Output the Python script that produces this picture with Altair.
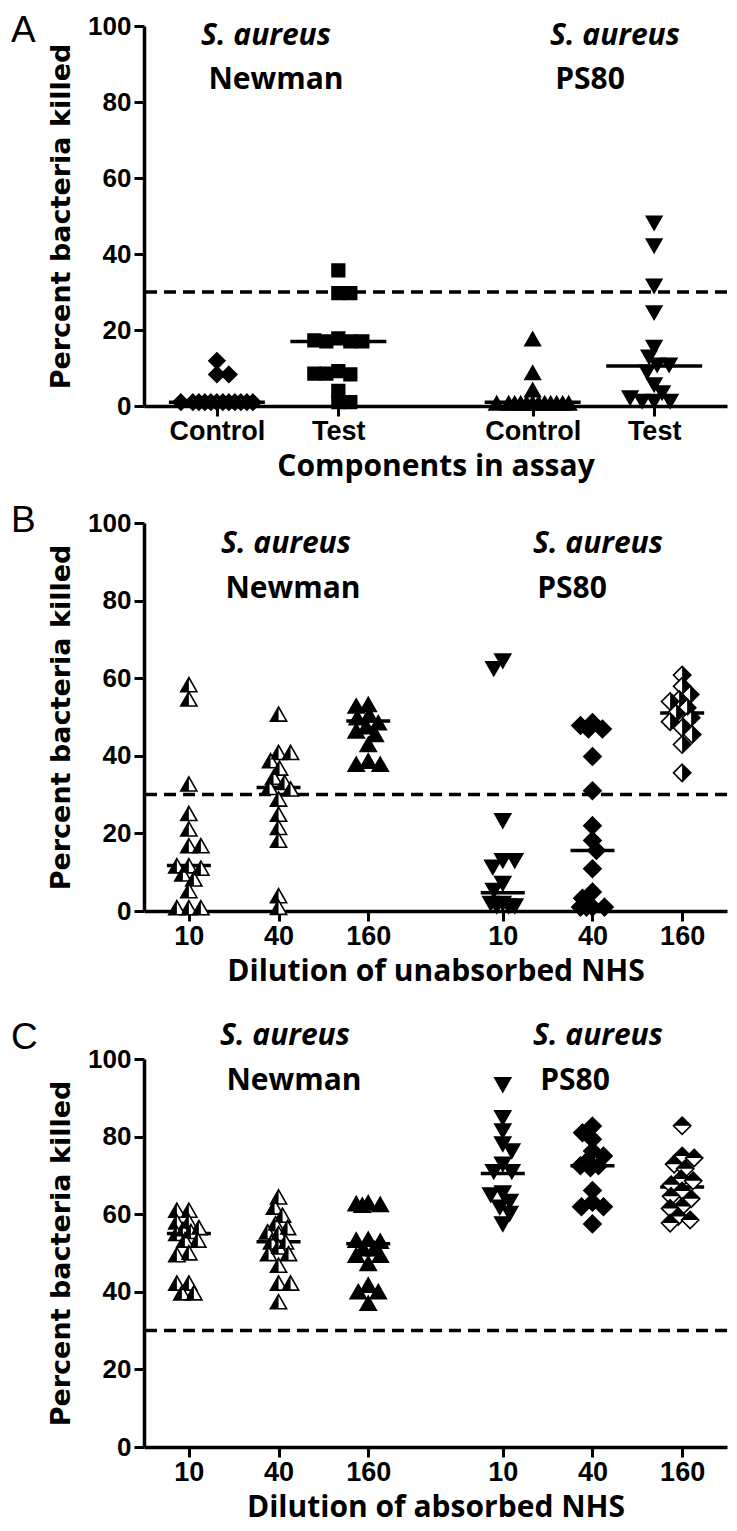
import math
import altair as alt
import pandas as pd

CUTOFF = 30
Y_TITLE = "Percent bacteria killed"
STRAIN_TOP = "S. aureus"
STRAIN_LEFT = "Newman"
STRAIN_RIGHT = "PS80"

# ---------------- Panel A ----------------
A_LETTER = "A"
A_XTITLE = "Components in assay"
A_LABELS = ["Control", "Test", "Control", "Test"]
A_NEWMAN_CONTROL = [11.9, 8.3, 8.3, 1.0, 1.0, 1.0, 1.0, 1.0, 1.0, 1.0, 1.0, 1.0, 1.0, 1.0, 1.0]
A_NEWMAN_TEST = [35.7, 29.7, 29.7, 17.8, 17.0, 17.0, 17.0, 17.3, 9.2, 8.5, 8.3, 8.5, 4.0, 1.0, 1.0]
A_PS80_CONTROL = [17.6, 8.7, 4.2, 0.7, 0.7, 0.7, 0.7, 0.7, 0.7, 0.7, 0.7, 0.7, 0.7, 0.7, 0.7]
A_PS80_TEST = [48.2, 42.2, 31.6, 24.6, 15.5, 12.9, 10.8, 9.0, 10.8, 5.6, 3.5, 1.3, 1.3, 1.3, 2.2]
A_MEDIANS = [1.0, 17.0, 1.0, 10.5]

# ---------------- Panel B ----------------
B_LETTER = "B"
B_XTITLE = "Dilution of unabsorbed NHS"
B_LABELS = ["10", "40", "160", "10", "40", "160"]
B_NEWMAN_10 = [58.3, 54.6, 32.7, 25.1, 21.1, 16.8, 16.8, 11.6, 11.0, 11.6, 9.5, 8.2, 5.2, 0.8, 0.8, 0.8]
B_NEWMAN_40 = [50.7, 40.8, 40.8, 38.7, 36.8, 34.4, 33.1, 31.8, 31.4, 28.8, 24.9, 21.5, 18.2, 3.9, 0.9]
B_NEWMAN_160 = [53.2, 52.8, 50.5, 49.8, 48.5, 47.5, 46.4, 45.5, 42.9, 38.6, 37.8, 37.8]
B_PS80_10 = [64.5, 62.5, 23.3, 13.0, 13.0, 11.3, 7.1, 5.3, 2.0, 2.0, 1.3, 1.3, 1.3]
B_PS80_40 = [48.6, 47.8, 46.9, 46.9, 39.8, 31.0, 22.0, 18.2, 15.6, 10.9, 4.9, 3.3, 1.0, 1.0, 1.0, 1.0]
B_PS80_160 = [60.8, 57.9, 55.8, 54.5, 54.0, 52.4, 51.0, 49.8, 48.8, 47.2, 45.5, 42.9, 35.6]
B_MEDIANS = [11.7, 31.8, 49.0, 4.7, 15.6, 51.0]

# ---------------- Panel C ----------------
C_LETTER = "C"
C_XTITLE = "Dilution of absorbed NHS"
C_LABELS = ["10", "40", "160", "10", "40", "160"]
C_NEWMAN_10 = [61.0, 61.0, 58.0, 58.0, 56.5, 56.0, 55.5, 55.0, 53.3, 53.3, 50.0, 49.5, 42.2, 42.2, 39.7, 39.7]
C_NEWMAN_40 = [64.4, 61.8, 59.7, 57.5, 56.5, 55.4, 55.0, 52.8, 52.8, 51.5, 49.8, 49.8, 46.8, 42.2, 42.2, 37.4]
C_NEWMAN_160 = [62.9, 62.7, 62.5, 62.3, 53.5, 53.3, 53.0, 51.1, 51.1, 49.4, 49.4, 47.3, 41.7, 40.0, 40.0, 37.0]
C_PS80_10 = [93.4, 84.9, 81.5, 78.1, 76.3, 72.9, 71.0, 71.0, 65.5, 65.0, 63.3, 61.8, 60.2, 57.5]
C_PS80_40 = [82.7, 81.0, 79.3, 76.3, 75.0, 73.8, 72.5, 72.5, 72.0, 66.1, 63.1, 61.9, 61.9, 57.5]
C_PS80_160 = [82.8, 75.0, 74.5, 72.9, 71.7, 69.1, 68.6, 67.6, 66.0, 64.6, 64.0, 62.0, 61.5, 59.4, 58.5, 57.7]
C_MEDIANS = [55.0, 52.9, 52.4, 70.5, 72.5, 67.0]

# ---------------- marker styles ----------------
TRI_UP = "M0,-0.9L1,0.85L-1,0.85Z"
TRI_UP_LEFT = "M0,-0.9L0,0.85L-1,0.85Z"
TRI_DOWN = "M-1,-0.85L1,-0.85L0,0.9Z"
DIAMOND = "M0,-1L1,0L0,1L-1,0Z"
DIAMOND_RIGHT = "M0,-1L1,0L0,1Z"
DIAMOND_TOP = "M-1,0L0,-1L1,0Z"
SQUARE = "M-1,-1L1,-1L1,1L-1,1Z"

STYLES = {
    "diamond": (DIAMOND, "black", None),
    "square": (SQUARE, "black", None),
    "tri_up": (TRI_UP, "black", None),
    "tri_down": (TRI_DOWN, "black", None),
    "tri_half": (TRI_UP, "white", TRI_UP_LEFT),
    "dia_right": (DIAMOND, "white", DIAMOND_RIGHT),
    "dia_top": (DIAMOND, "white", DIAMOND_TOP),
}

PLOT_W = 583


def swarm(vals, ppu_y, w, h, maxw, step=1.0):
    placed, out = [], []
    n = int(maxw / step)
    for i, v in enumerate(vals):
        y = v * ppu_y
        sign = 1 if i % 2 == 0 else -1
        cands = [0.0]
        for k in range(1, n + 1):
            cands += [sign * k * step, -sign * k * step]
        best_x, best_d = 0.0, -1.0
        for x in cands:
            d = min((math.hypot((x - px) / w, (y - py) / h) for px, py in placed), default=9.0)
            if d >= 1.0:
                best_x = x
                break
            if d > best_d + 1e-9:
                best_x, best_d = x, d
        placed.append((best_x, y))
        out.append(best_x)
    return out


def panel(groups, positions, medians, dmax, labels, xtitle, letter, letter_y,
          texts, halfw_px, maxw, sizes, height):
    ppu_x = PLOT_W / dmax
    ppu_y = height / 100.0
    rows = []
    for (vals, style), pos in zip(groups, positions):
        shp, fc, half = STYLES[style]
        offs = swarm(vals, ppu_y, 12, 10.5, maxw)
        for v, o in zip(vals, offs):
            rows.append({"x": pos + o / ppu_x, "y": v, "shp": shp, "fc": fc,
                         "half": half, "sz": sizes[style]})
    df = pd.DataFrame(rows)
    med = pd.DataFrame({"x1": [p - halfw_px / ppu_x for p in positions],
                        "x2": [p + halfw_px / ppu_x for p in positions],
                        "m": medians})

    label_expr = "[" + ",".join("'%s'" % l for l in labels) + "][indexof([" + \
        ",".join(str(p) for p in positions) + "], datum.value)]"
    xaxis = alt.Axis(values=positions, labelExpr=label_expr, title=xtitle,
                     labelFont="Liberation Sans", labelFontWeight="bold", labelFontSize=27,
                     labelPadding=2, labelFlush=False, labelOverlap=False,
                     tickSize=10, tickWidth=3, domainWidth=3.5,
                     titleFont="Open Sans", titleFontWeight="bold", titleFontSize=30,
                     titlePadding=7, grid=False)
    yaxis = alt.Axis(values=[0, 20, 40, 60, 80, 100], title=Y_TITLE,
                     labelFont="Liberation Sans", labelFontWeight="bold", labelFontSize=26,
                     labelPadding=3, labelFlush=False, labelOverlap=False,
                     tickSize=10, tickWidth=3, domainWidth=3.5,
                     titleFont="DejaVu Sans", titleFontWeight="bold", titleFontSize=27,
                     titlePadding=12, grid=False)
    xs = alt.Scale(domain=[0, dmax], nice=False, zero=False)
    ys = alt.Scale(domain=[0, 100], nice=False)

    def X(f):
        return alt.X(f, type="quantitative", scale=xs, axis=xaxis)

    def Y(f):
        return alt.Y(f, type="quantitative", scale=ys, axis=yaxis)

    dash = alt.Chart(pd.DataFrame({"c": [CUTOFF]})).mark_rule(
        color="black", strokeWidth=3.5, strokeDash=[12, 7]).encode(y=Y("c"))
    pts = alt.Chart(df).mark_point(filled=True, opacity=1, strokeWidth=1.6,
                                   stroke="black").encode(
        x=X("x"), y=Y("y"),
        shape=alt.Shape("shp:N", scale=None),
        fill=alt.Fill("fc:N", scale=None),
        size=alt.Size("sz:Q", scale=None))
    halves = alt.Chart(df[df["half"].notna()]).mark_point(
        filled=True, opacity=1, color="black", strokeWidth=0).encode(
        x=X("x"), y=Y("y"),
        shape=alt.Shape("half:N", scale=None),
        size=alt.Size("sz:Q", scale=None))
    meds = alt.Chart(med).mark_rule(color="black", strokeWidth=3.5).encode(
        x=X("x1"), x2="x2", y=Y("m"))

    layers = [dash, meds, pts, halves]
    for txt, tx, ty, italic in texts:
        layers.append(alt.Chart(pd.DataFrame({"t": [txt]})).mark_text(
            font="Open Sans", fontSize=30, fontWeight="bold",
            fontStyle="italic" if italic else "normal", align="center",
            baseline="middle", color="black").encode(
            text="t:N", x=alt.value(tx), y=alt.value(ty)))
    layers.append(alt.Chart(pd.DataFrame({"t": [letter]})).mark_text(
        font="Liberation Sans", fontSize=37, align="left", baseline="middle",
        color="black").encode(text="t:N", x=alt.value(-133), y=alt.value(letter_y)))
    return alt.layer(*layers).properties(width=PLOT_W, height=height)


chartA = panel(
    [(A_NEWMAN_CONTROL, "diamond"), (A_NEWMAN_TEST, "square"),
     (A_PS80_CONTROL, "tri_up"), (A_PS80_TEST, "tri_down")],
    [6, 16, 32, 42], A_MEDIANS, 48, A_LABELS, A_XTITLE, A_LETTER, 5,
    [(STRAIN_TOP, 122, 10, True), (STRAIN_LEFT, 132, 54, False),
     (STRAIN_TOP, 471, 10, True), (STRAIN_RIGHT, 446, 54, False)],
    48, 40, {"diamond": 256, "square": 160, "tri_up": 240, "tri_down": 240}, 380)

SZ_BC = {"tri_half": 262, "tri_up": 262, "tri_down": 256, "diamond": 300,
         "dia_right": 300, "dia_top": 300}

chartB = panel(
    [(B_NEWMAN_10, "tri_half"), (B_NEWMAN_40, "tri_half"), (B_NEWMAN_160, "tri_up"),
     (B_PS80_10, "tri_down"), (B_PS80_40, "diamond"), (B_PS80_160, "dia_right")],
    [1, 3, 5, 8, 10, 12], B_MEDIANS, 13, B_LABELS, B_XTITLE, B_LETTER, -2,
    [(STRAIN_TOP, 142, 21, True), (STRAIN_LEFT, 149, 66, False),
     (STRAIN_TOP, 454, 21, True), (STRAIN_RIGHT, 428, 66, False)],
    22, 12, SZ_BC, 388)

chartC = panel(
    [(C_NEWMAN_10, "tri_half"), (C_NEWMAN_40, "tri_half"), (C_NEWMAN_160, "tri_up"),
     (C_PS80_10, "tri_down"), (C_PS80_40, "diamond"), (C_PS80_160, "dia_top")],
    [1, 3, 5, 8, 10, 12], C_MEDIANS, 13, C_LABELS, C_XTITLE, C_LETTER, -21,
    [(STRAIN_TOP, 141, -23, True), (STRAIN_LEFT, 150, 22, False),
     (STRAIN_TOP, 454, -23, True), (STRAIN_RIGHT, 431, 22, False)],
    22, 12, SZ_BC, 388)

inner = alt.vconcat(chartB, chartC, spacing=148, bounds="flush")
chart = alt.vconcat(chartA, inner, spacing=117, bounds="flush").configure_view(
    stroke=None).configure_axis(
    domainColor="black", tickColor="black", labelColor="black", titleColor="black"
).properties(padding={"left": 3, "top": 4, "right": 0, "bottom": 6}, background="white")

chart.save("out.html", embed_options={"renderer": "svg", "actions": False})
